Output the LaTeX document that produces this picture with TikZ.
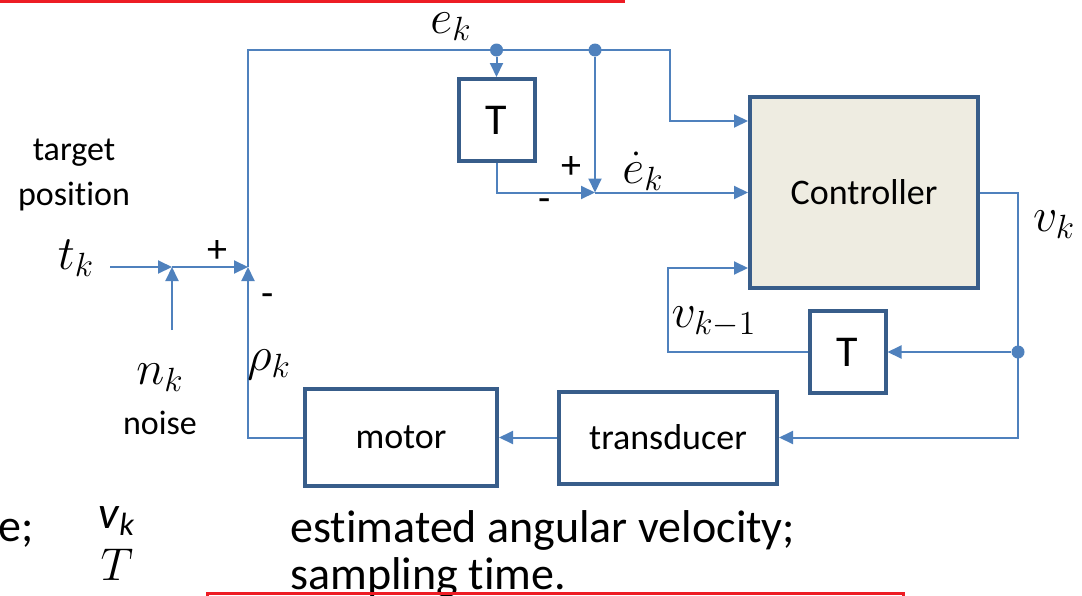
\RequirePackage{fix-cm}
\documentclass[tikz,border=0pt]{standalone}
\usepackage{fontspec}
\setmainfont{Carlito}[Ligatures=NoCommon]
\usepackage{tikz}
\usetikzlibrary{arrows.meta,positioning,calc}
\definecolor{SigBlue}{RGB}{79,129,189}
\definecolor{BlkEdge}{RGB}{56,93,138}
\definecolor{CtlFill}{RGB}{238,236,225}
\definecolor{MarkRed}{RGB}{237,28,36}
\tikzset{
  blk/.style={draw=BlkEdge,line width=2pt,fill=white,align=center,inner sep=0pt,font=\fontsize{18}{21}\selectfont},
  dly/.style={blk,minimum width=38pt,minimum height=41pt,font=\fontsize{22}{26}\selectfont},
  sig/.style={draw=SigBlue,line width=1pt},
  arr/.style={sig,-{Triangle[length=7pt,width=6.5pt]}},
  jdot/.style={circle,fill=SigBlue,inner sep=0pt,minimum size=6.5pt},
  lbl/.style={font=\fontsize{17}{22.5}\selectfont,align=center,inner sep=0pt},
  sgn/.style={font=\fontsize{20}{22}\selectfont,inner sep=0pt},
  mlbl/.style={font=\fontsize{24}{26}\selectfont,inner sep=0pt},
  note/.style={font=\fontsize{23}{26}\selectfont,inner sep=0pt},
}
\begin{document}
\begin{tikzpicture}[x=0.5pt,y=-0.5pt]
    \useasboundingbox (0,0) rectangle (1082,595);
    \clip (0,0) rectangle (1082,595);
    %% Blocks
    \node[blk,fill=CtlFill,minimum width=114pt,minimum height=95.5pt] (ctrl) at (864,192.5) {Controller};
    \node[dly] (tA) at (496.5,120) {T};
    \node[dly] (tB) at (847.5,352) {T};
    \node[blk,minimum width=96pt,minimum height=48.5pt] (motor) at (401,437.5) {motor};
    \node[blk,minimum width=109pt,minimum height=46pt] (trans) at (668,437.5) {transducer};
    %% Junctions
    \coordinate (tin)  at (110,267);
    \coordinate (nin)  at (172,330);
    \coordinate (nsum) at (172,267);
    \coordinate (esum) at (248,267);
    \coordinate (dsum) at (595,192.5);
    \node[jdot] (jA) at (496.5,50) {};
    \node[jdot] (jB) at (595,50) {};
    \node[jdot] (jC) at (1018,352) {};
    \coordinate (ctrlA) at ($(ctrl.west)+(0,-71.5)$);
    \coordinate (ctrlC) at ($(ctrl.west)+(0,75.5)$);
    %% Arrows
    \draw[arr] (tin)--(nsum);
    \draw[arr] (nin)--(nsum);
    \draw[arr] (nsum)--(esum);
    \draw[arr] (motor.west) -| (esum);
    \draw[arr] (esum)--(248,50)--(670,50) |- (ctrlA);
    \draw[arr] (jA)--(tA.north);
    \draw[arr] (jB)--(dsum);
    \draw[arr] (tA.south) |- (dsum);
    \draw[arr] (dsum)--(ctrl.west);
    \draw[arr] (ctrl.east) -| (trans.east -| jC)--(trans.east);
    \draw[arr] (jC)--(tB.east);
    \draw[arr] (tB.west)--++(-140,0) |- (ctrlC);
    \draw[arr] (trans.west)--(motor.east);
    %% Labels
    \node[lbl] (tgt)   at (74,175) {target\\position};
    \node[mlbl] (tk)   at (76,258) {$t_k$};
    \node[sgn] (pA)    at (217,252) {+};
    \node[sgn] (mA)    at (268,300) {-};
    \node[mlbl] (rho)  at (269,365) {$\rho_k$};
    \node[mlbl] (nk)   at (160,378) {$n_k$};
    \node[lbl] (nse)   at (160,423) {noise};
    \node[mlbl] (ek)   at (451,27) {$e_k$};
    \node[sgn] (pB)    at (571,167) {+};
    \node[sgn] (mB)    at (545,205) {-};
    \node[mlbl] (edot) at (643,171) {$\dot e_k$};
    \node[mlbl] (vk)   at (1054,225) {$v_k$};
    \node[mlbl] (vkm)  at (714,322) {$v_{k-1}$};
    %% Legend
    \node[note,anchor=west] (lgE) at (-2,533) {e;};
    \node[note] (lgV) at (117,521) {\textit{v\textsubscript{k}}};
    \node[note] (lgT) at (117,565) {$T$};
    \node[note,anchor=west] (lgA) at (290,530) {estimated angular velocity;};
    \node[note,anchor=west] (lgB) at (290,577) {sampling time.};
    %% Marks
    \draw[MarkRed,line width=1.5pt] (0,1)--(625,1);
    \draw[MarkRed,line width=1.5pt] (207,600)--(207,593.5)--(903,593.5)--(903,600);
\end{tikzpicture}
\end{document}
